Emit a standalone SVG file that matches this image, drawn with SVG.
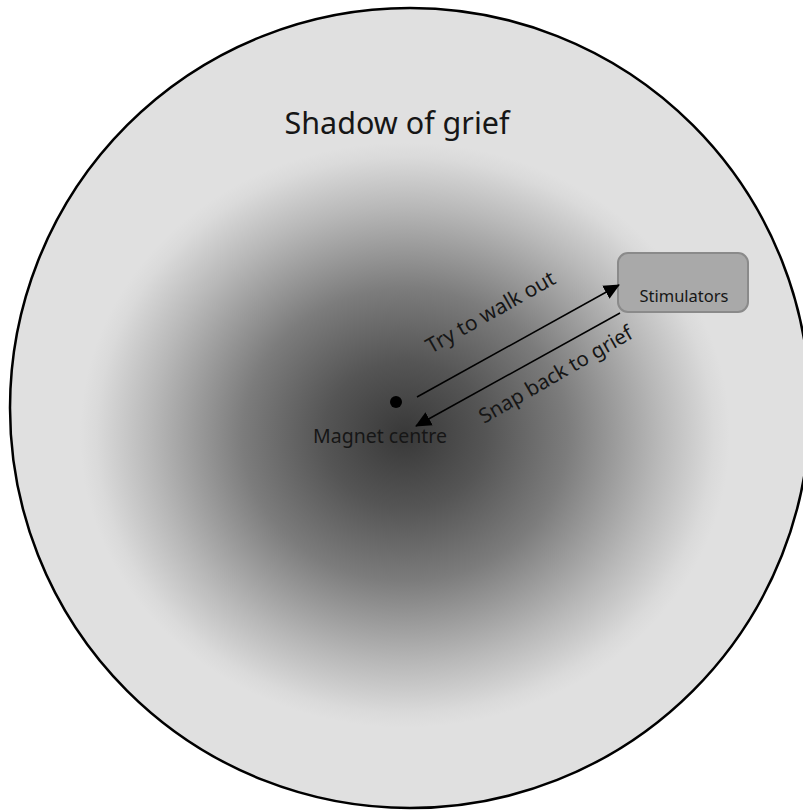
<svg xmlns="http://www.w3.org/2000/svg" width="803" height="811" viewBox="0 0 803 811">
<defs>
<radialGradient id="shade" gradientUnits="userSpaceOnUse" cx="405" cy="435" r="325" gradientTransform="translate(405,435) scale(1,0.9) translate(-405,-435)">
<stop offset="0" stop-color="#383838"/>
<stop offset="0.25" stop-color="#555555"/>
<stop offset="0.5" stop-color="#7c7c7c"/>
<stop offset="0.78" stop-color="#b8b8b8"/>
<stop offset="0.95" stop-color="#dadada"/>
<stop offset="1" stop-color="#e0e0e0"/>
</radialGradient>
<marker id="arr" markerWidth="16" markerHeight="16" refX="15" refY="7.5" orient="auto" markerUnits="userSpaceOnUse" viewBox="0 0 16 15">
<path d="M0,0 L16,7.5 L0,15 z" fill="#000"/>
</marker>
<style>
.lbl{font-family:"Noto Sans","DejaVu Sans",sans-serif;fill:#161616}
.conn{stroke:#000;stroke-width:1.5;fill:none}
</style>
</defs>
<rect width="803" height="811" fill="#ffffff"/>
<g id="shadow">
<circle cx="410" cy="408" r="400" fill="url(#shade)" stroke="#000" stroke-width="2.5"/>
<text class="lbl" x="397" y="134" font-size="30.5" text-anchor="middle">Shadow of grief</text>
</g>
<g id="magnet">
<circle cx="396" cy="402" r="6" fill="#000"/>
<text class="lbl" x="380" y="443" font-size="19.5" text-anchor="middle">Magnet centre</text>
</g>
<g id="stimulators">
<rect x="618" y="253" width="130" height="59" rx="10" fill="#a9a9a9" stroke="#8a8a8a" stroke-width="2"/>
<text class="lbl" x="684" y="302" font-size="16.5" text-anchor="middle" fill="#2a2a2a">Stimulators</text>
</g>
<g id="connectors">
<line class="conn" x1="417" y1="397" x2="619" y2="285" marker-end="url(#arr)"/>
<line class="conn" x1="620" y1="313" x2="416" y2="426" marker-end="url(#arr)"/>
<text class="lbl" font-size="21" fill="#2a2a2a" transform="translate(431,354) rotate(-29.5)">Try to walk out</text>
<text class="lbl" font-size="20.5" fill="#2a2a2a" transform="translate(484,424) rotate(-30)">Snap back to grief</text>
</g>
</svg>
